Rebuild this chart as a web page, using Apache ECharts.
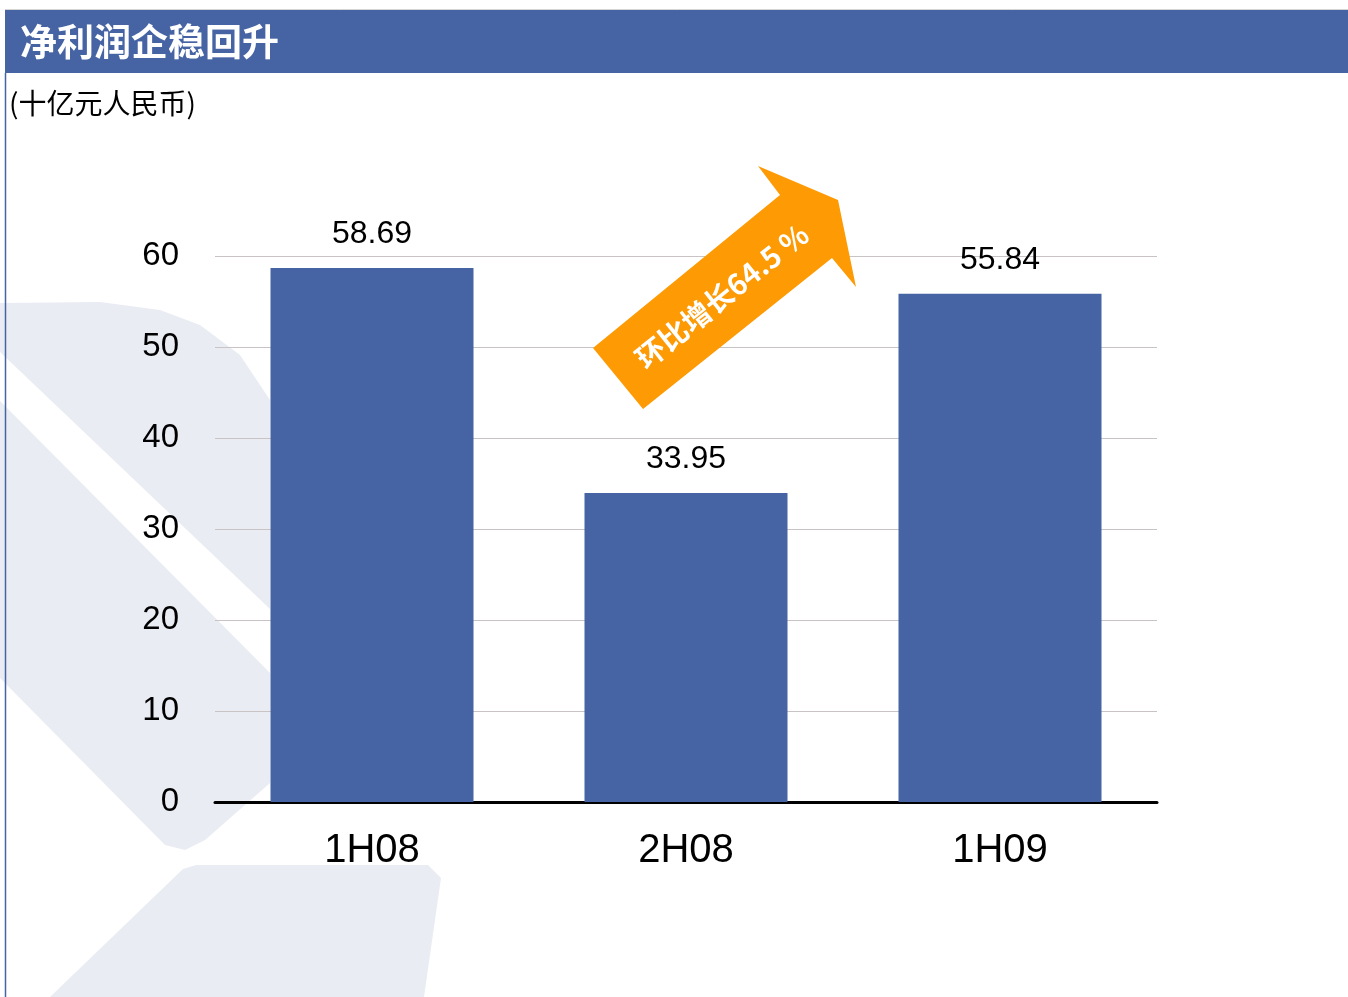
<!DOCTYPE html>
<html>
<head>
<meta charset="utf-8">
<script src="https://cdn.jsdelivr.net/npm/echarts@6/dist/echarts.min.js"></script>
<style>
  html, body { margin: 0; padding: 0; background: #fff; }
  #main { width: 1348px; height: 997px; }
</style>
</head>
<body>
<div id="main"></div>
<script>
// data
const categories = ['1H08', '2H08', '1H09']
const profit = [58.69, 33.95, 55.84]
const yMin = 0
const yMax = 60
const yStep = 10
const titleText = '净利润企稳回升'
const unitText = '(十亿元人民币)'
const growthText = '环比增长64.5 %'

const blue = '#4664a4'
const orange = '#fd9a04'
const shade = '#e9ecf3'

const chart = echarts.init(document.getElementById('main'))

// faint logo shapes behind the chart
const watermark = [
  [[0, 303], [100, 302], [160, 310], [200, 325], [240, 355], [270, 400], [270, 609], [0, 352]],
  [[0, 401], [270, 673], [270, 783], [205, 840], [185, 850], [165, 845], [0, 678]],
  [[183, 869], [196, 865], [428, 865], [441, 878], [424, 997], [50, 997]]
].map(pts => ({
  type: 'polygon',
  z: -10,
  silent: true,
  shape: { points: pts },
  style: { fill: shade }
}))

const option = {
  backgroundColor: '#fff',
  animation: false,
  grid: {
    left: 215,
    right: 191,
    top: 256,
    bottom: 195,
    containLabel: false
  },
  xAxis: {
    type: 'category',
    data: categories,
    axisLine: { show: true, lineStyle: { color: '#000', width: 3 } },
    axisTick: { show: false },
    axisLabel: {
      margin: 29,
      fontSize: 40,
      color: '#000',
      fontFamily: 'Liberation Sans, Arial, sans-serif'
    },
    splitLine: { show: false }
  },
  yAxis: {
    type: 'value',
    min: yMin,
    max: yMax,
    interval: yStep,
    axisLine: { show: false },
    axisTick: { show: false },
    axisLabel: {
      margin: 36,
      fontSize: 33,
      color: '#000',
      fontFamily: 'Liberation Sans, Arial, sans-serif'
    },
    splitLine: { show: true, lineStyle: { color: '#c9c3c3', width: 1 } }
  },
  series: [
    {
      type: 'bar',
      data: profit,
      barWidth: 203,
      itemStyle: { color: blue },
      label: {
        show: true,
        position: 'top',
        distance: 18,
        fontSize: 32,
        color: '#000',
        fontFamily: 'Liberation Sans, Arial, sans-serif',
        formatter: (p) => p.value.toFixed(2)
      }
    }
  ],
  graphic: [
    ...watermark,
    {
      type: 'line',
      silent: true,
      shape: { x1: 5, y1: 9.5, x2: 1348, y2: 9.5 },
      style: { stroke: '#d4d4d4', lineWidth: 1 }
    },
    {
      type: 'rect',
      silent: true,
      shape: { x: 5, y: 10, width: 1343, height: 63 },
      style: { fill: blue }
    },
    {
      type: 'line',
      silent: true,
      shape: { x1: 5.5, y1: 73, x2: 5.5, y2: 997 },
      style: { stroke: blue, lineWidth: 1.5 }
    },
    {
      type: 'text',
      silent: true,
      x: 20,
      y: 42,
      style: {
        text: titleText,
        fill: '#fff',
        font: 'bold 37px "Noto Sans CJK SC"',
        textVerticalAlign: 'middle'
      }
    },
    {
      type: 'text',
      silent: true,
      x: 9,
      y: 103,
      style: {
        text: unitText,
        fill: '#000',
        font: '28px "Noto Sans CJK SC"',
        textVerticalAlign: 'middle'
      }
    },
    // growth arrow
    {
      type: 'polygon',
      silent: true,
      z: 100,
      shape: {
        points: [[593, 348], [780, 195], [758, 166], [838, 200], [856, 287], [832, 258], [643, 409]]
      },
      style: { fill: orange }
    },
    {
      type: 'text',
      silent: true,
      z: 101,
      x: 722,
      y: 296,
      rotation: 38.6 * Math.PI / 180,
      style: {
        text: growthText,
        fill: '#fff',
        font: 'bold 29px "Noto Sans CJK SC"',
        textAlign: 'center',
        textVerticalAlign: 'middle'
      }
    }
  ]
}

chart.setOption(option)
</script>
</body>
</html>
